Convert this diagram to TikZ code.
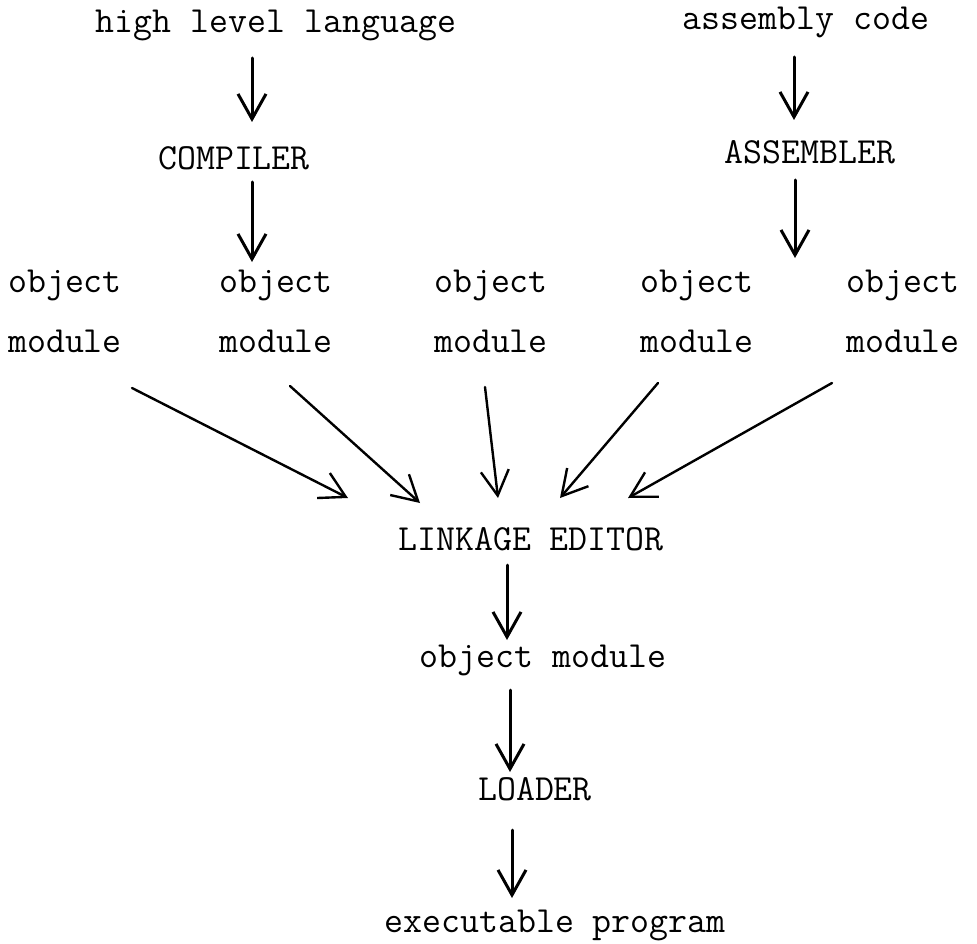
\documentclass[tikz,border=0pt]{standalone}
\usetikzlibrary{arrows.meta}
\begin{document}
\begin{tikzpicture}[x=1pt,y=-1pt,
    txt/.style={anchor=base,inner sep=0pt,font=\ttfamily\fontsize{36.8}{44}\selectfont},
    arr/.style={-{Straight Barb[length=25pt,width=28pt]},line width=3pt,line cap=round},
    slant/.style={arr,line width=2.4pt}]
    \useasboundingbox (0,0) rectangle (977,944);

    % sources and translators
    \node[txt] (hll) at (276,33) {high level language};
    \node[txt] (asm) at (806,30) {assembly code};
    \node[txt] (comp) at (234,170) {COMPILER};
    \node[txt] (assem) at (810,164) {ASSEMBLER};

    % row of object modules
    \foreach \i/\x in {1/65,2/276,3/491,4/697,5/903} {
        \node[txt] (ob\i) at (\x,292) {object};
        \node[txt] (mo\i) at (\x,352) {module};
    }

    % linking and loading
    \node[txt] (le) at (531,550) {LINKAGE EDITOR};
    \node[txt] (om) at (543,667) {object module};
    \node[txt] (ld) at (535,800) {LOADER};
    \node[txt] (exe) at (555,932) {executable program};

    % vertical arrows
    \draw[arr] ([xshift=-24pt,yshift=-25pt]hll.base) -- ([xshift=18pt,yshift=48pt]comp.base);
    \draw[arr] ([xshift=18pt,yshift=-12pt]comp.base) -- ([xshift=-24pt,yshift=30pt]ob2.base);
    \draw[arr] ([xshift=-12pt,yshift=-27pt]asm.base) -- ([xshift=-16pt,yshift=44pt]assem.base);
    \draw[arr] ([xshift=-15pt,yshift=-16pt]assem.base) -- ([xshift=98pt,yshift=34pt]ob4.base);

    % every module into the linkage editor
    \foreach \i/\sx/\sy/\tx/\ty in {1/67/-36/-183/52,2/14/-34/-111/47,3/-6/-35/-33/52,
        4/-39/-31/29/52,5/-71/-31/97/52}
    \draw[slant] ([xshift=\sx pt,yshift=\sy pt]mo\i.base) -- ([xshift=\tx pt,yshift=\ty pt]le.base);

    \draw[arr] ([xshift=-24pt,yshift=-15pt]le.base) -- ([xshift=-36pt,yshift=27pt]om.base);
    \draw[arr] ([xshift=-33pt,yshift=-23pt]om.base) -- ([xshift=-25pt,yshift=28pt]ld.base);
    \draw[arr] ([xshift=-23pt,yshift=-30pt]ld.base) -- ([xshift=-43pt,yshift=34pt]exe.base);
\end{tikzpicture}
\end{document}
